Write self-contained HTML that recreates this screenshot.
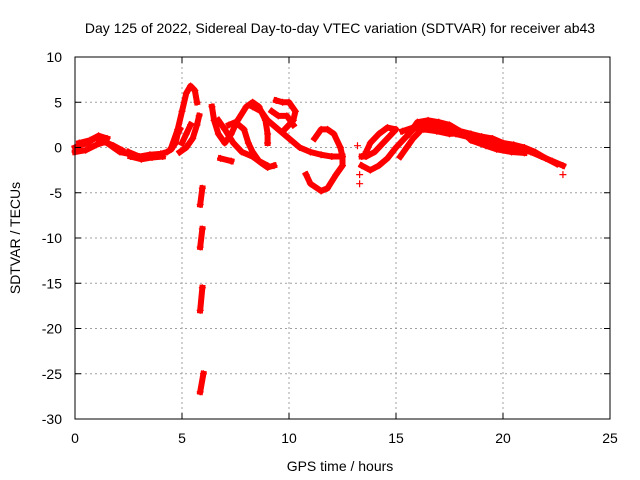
<!DOCTYPE html>
<html><head><meta charset="utf-8"><style>
body{margin:0;background:#fff}
svg{display:block;font-family:"Liberation Sans",sans-serif}
</style></head><body>
<svg id="chart" width="640" height="480">
<rect width="640" height="480" fill="#fff"/>
<text x="340" y="33" font-size="14" text-anchor="middle">Day 125 of 2022, Sidereal Day-to-day VTEC variation (SDTVAR) for receiver ab43</text>
<text x="340" y="471" font-size="14" text-anchor="middle">GPS time / hours</text>
<text transform="translate(20,238) rotate(-90)" font-size="14" text-anchor="middle">SDTVAR / TECUs</text>
<g id="grid"></g><g id="marks"></g>
<rect x="75" y="57" width="535" height="362" fill="none" stroke="#000"/>
<g id="ticks"></g>
</svg>
<script>
const xTicks=[0,5,10,15,20,25];
const yTicks=[10,5,0,-5,-10,-15,-20,-25,-30];
const arcA=[[0,0],[0.3,0.3],[0.6,0.5],[0.9,1],[1.2,1],[1.5,0.5],[1.8,0],[2.1,-0.5],[2.5,-0.7]];
const arcB=[[0,-0.5],[0.5,-0.3],[1,0.3],[1.4,0.6],[1.8,0.2],[2.2,-0.3]];
const arcB2=[[0.2,0.5],[0.7,0.8],[1.1,1.3],[1.5,1]];
const arcC=[[2.5,-0.5],[3,-1],[3.5,-0.8],[4,-0.7],[4.3,-0.5],[4.5,-0.2],[4.7,0.5],[4.8,1.5],[4.9,2]];
const arcC2=[[2.6,-1],[3.1,-1.3],[3.6,-1.1],[4.1,-1]];
const arcD=[[4.5,0],[4.8,2],[5.0,4],[5.2,6],[5.4,6.8],[5.6,6.3],[5.7,5]];
const arcE=[[4.9,-0.5],[5.2,0],[5.5,1],[5.7,2.5],[5.8,3.5]];
const arcE2=[[5.0,0.5],[5.2,1.5],[5.4,2.5]];
const arcF1=[[5.95,-4.5],[5.85,-6.3]];
const arcF2=[[5.95,-9],[5.85,-11]];
const arcF3=[[5.95,-15.5],[5.85,-18]];
const arcF4=[[6.0,-25],[5.85,-27]];
const arcG=[[6.4,4.5],[6.5,3],[6.7,1.5],[7,0.5],[7.3,1.5],[7.6,3],[8,4.5],[8.3,5],[8.6,4.5],[8.9,3],[9,1.5],[9,0.5]];
const arcH=[[6.7,3],[7.0,2],[7.4,0.5],[7.8,-0.5],[8.3,-1],[8.7,-1.7],[9,-2.2],[9.3,-2]];
const arcI=[[6.8,-1.2],[7.3,-1.5]];
const arcI2=[[7.2,2.5],[7.5,2.8],[7.9,2],[8.1,0.5],[8.3,-0.5],[8.6,-1.5],[9,-2]];
const arcJ=[[8.3,4.5],[8.7,4],[9,3],[9.5,2],[10,1],[10.5,0],[11,-0.5],[11.5,-0.8],[12,-1],[12.5,-1]];
const arcK=[[9.4,5.2],[9.7,5],[10,5],[10.3,4],[10.2,3],[9.8,2]];
const arcK2=[[9.2,4],[9.5,3.5],[9.9,3.5],[10.2,2.5]];
const arcL=[[11.2,1],[11.5,2],[11.8,2],[12.1,1.5],[12.4,0],[12.5,-1],[12.5,-2],[12.2,-3],[11.8,-4.5],[11.5,-4.8],[11,-4],[10.8,-3]];
const arcM=[[13.4,-1],[13.6,-1],[14,-0.5],[14.4,0.5],[14.8,1.5],[15,2],[14.6,2.2],[14.2,1.5],[13.8,0.5],[13.6,-0.5]];
const arcN=[[13.4,-2],[13.8,-2.5],[14.2,-2],[14.6,-1.2],[15,0],[15.4,1],[15.8,2],[16.2,2.5],[16.8,2.5],[17.3,2],[17.8,1.5],[18.3,1.2],[18.8,1],[19.3,0.5],[19.8,0.3],[20.3,0],[20.8,-0.2],[21.3,-0.5],[21.8,-1],[22.3,-1.5],[22.8,-2]];
const arcN2=[[15.6,1.5],[16,2.8],[16.5,3],[17,2.8],[17.5,2.5],[18,1.8],[18.5,1.5],[19,1.2],[19.5,1],[20,0.5],[20.5,0.3],[21,0],[21.5,-0.5],[22,-1.2],[22.5,-1.8]];
const arcN3=[[15.3,1.8],[15.8,2.2],[16.3,2],[16.9,1.8],[17.5,1.5],[18.2,1.6],[18.5,0.8],[19.2,0.2],[19.7,-0.2],[20.4,-0.5],[21,-0.6]];
const arcO=[[15.2,-1],[15.5,0],[15.8,1],[16.2,2],[16.8,2.2],[17.5,1.8]];
const lonePoints=[[13.3,-3],[13.3,-4],[13.2,0.2],[22.8,-3]];
const arcs=[arcA,arcB,arcB2,arcC,arcC2,arcD,arcE,arcE2,arcF1,arcF2,arcF3,arcF4,arcG,arcH,arcI,arcI2,arcJ,arcK,arcK2,arcL,arcM,arcN,arcN2,arcN3,arcO];

const NS='http://www.w3.org/2000/svg';
const X=v=>75+v*(535/25);
const Y=v=>57+(10-v)*(362/40);
const grid=document.getElementById('grid'),ticks=document.getElementById('ticks'),marks=document.getElementById('marks');
function mk(t,p,a){const e=document.createElementNS(NS,t);for(const k in a)e.setAttribute(k,a[k]);p.appendChild(e);return e;}
xTicks.forEach(v=>{
 if(v>0&&v<25){const g=mk('line',grid,{x1:X(v),x2:X(v),y1:57,y2:419,stroke:'#a0a0a0','stroke-dasharray':'2,3'});
 
 }
 mk('line',ticks,{x1:X(v),x2:X(v),y1:419,y2:413,stroke:'#000'});
 mk('line',ticks,{x1:X(v),x2:X(v),y1:57,y2:63,stroke:'#000'});
 const t=mk('text',ticks,{x:X(v),y:443,'font-size':14,'text-anchor':'middle'});t.textContent=v;
 
 
});
yTicks.forEach(v=>{
 if(v<10&&v>-30){const g=mk('line',grid,{x1:75,x2:610,y1:Y(v),y2:Y(v),stroke:'#a0a0a0','stroke-dasharray':'2,3'});
 
 }
 mk('line',ticks,{x1:75,x2:81,y1:Y(v),y2:Y(v),stroke:'#000'});
 mk('line',ticks,{x1:610,x2:604,y1:Y(v),y2:Y(v),stroke:'#000'});
 const t=mk('text',ticks,{x:62,y:Y(v)+5,'font-size':14,'text-anchor':'end'});t.textContent=v;
 
 
});
function plus(x,y){mk('path',marks,{d:`M${x-3.5},${y}h7M${x},${y-3.5}v7`,stroke:'#f00','stroke-width':1.2});}
arcs.forEach(a=>{
 const pl=mk('polyline',marks,{points:a.map(p=>X(p[0])+','+Y(p[1])).join(' '),fill:'none',stroke:'#f00','stroke-width':6,'stroke-linejoin':'round','stroke-linecap':'square'});
 
 
 a.forEach(p=>plus(X(p[0]),Y(p[1])));
});
lonePoints.forEach(p=>plus(X(p[0]),Y(p[1])));
</script>
</body></html>
